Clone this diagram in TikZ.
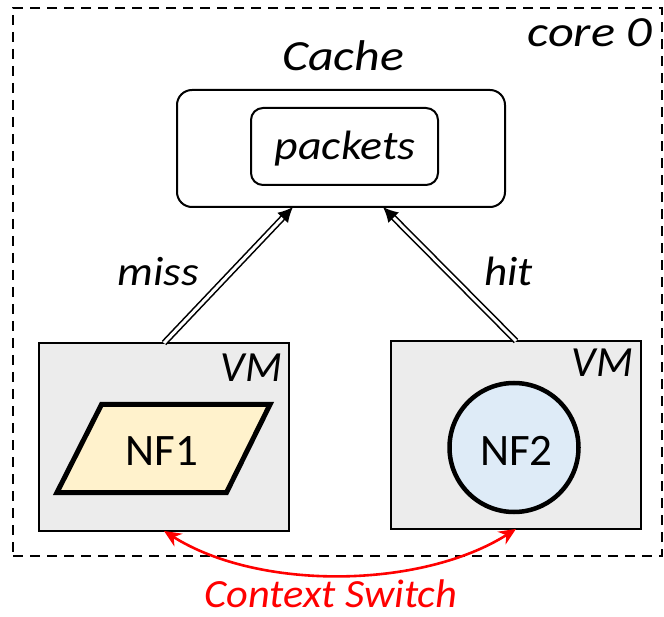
\documentclass[tikz,border=0pt]{standalone}
\usepackage{fontspec}
\setmainfont{Carlito}
\usetikzlibrary{arrows.meta,calc}

\definecolor{vmgray}{HTML}{ECECEC}
\definecolor{nfyellow}{HTML}{FFF2CC}
\definecolor{nfblue}{HTML}{DEEBF7}

% italic set a little wider, size and horizontal stretch as arguments
\newcommand{\wideit}[2]{\fontsize{#1}{#1}\selectfont\itshape\addfontfeature{FakeStretch=#2}}

\begin{document}
\begin{tikzpicture}[x=1pt,y=-1pt,
  every node/.style={inner sep=0pt, outer sep=0pt},
  itlabel/.style={font=\fontsize{43}{50}\selectfont\itshape},
  nflabel/.style={font=\fontsize{45}{52}\selectfont},
  corebox/.style={draw, dashed, line width=2pt, dash pattern=on 10pt off 7pt},
  cachebox/.style={draw, line width=2pt, rounded corners=15pt},
  vmbox/.style={draw, fill=vmgray, line width=2.5pt, minimum width=250pt, minimum height=188pt},
  dblarrow/.style={double, double distance=3pt, line width=1.6pt, -{Latex[length=15pt,width=15pt]}},
  ctxarrow/.style={red, line width=2.6pt, {Stealth[length=17pt,width=15pt]}-{Stealth[length=17pt,width=15pt]}}
]
\useasboundingbox (0,0) rectangle (664,617);

% core boundary
\node[corebox, minimum width=649pt, minimum height=548pt] (core) at (337.5,282) {};
\node[font=\wideit{43}{1.17}, anchor=base east] (corelbl) at (652,47) {core 0};

% cache with the packet buffer inside
\node[font=\wideit{43}{1.16}, anchor=base] (cachelbl) at (343,71) {Cache};
\node[cachebox, minimum width=328pt, minimum height=117pt] (cache) at (341,148.5) {};
\node[cachebox, rounded corners=12pt, minimum width=187pt, minimum height=77pt] (pkts) at (344.5,146.5) {};
\node[font=\wideit{41}{1.12}, anchor=base] (pktslbl) at (345,160) {packets};

% virtual machines
\node[vmbox] (vm1) at (164,437) {};
\node[vmbox] (vm2) at (516,435) {};
\node[itlabel, anchor=base east] (vm1lbl) at (282,382) {VM};
\node[itlabel, anchor=base east] (vm2lbl) at (633,377) {VM};

% NF1: parallelogram
\draw[line width=5pt, fill=nfyellow, line join=miter]
  (101.5,404.5) -- (270,404.5) -- (226.5,492.5) -- (57,492.5) -- cycle;
\node[nflabel, anchor=base] (nf1) at (162,465) {NF1};

% NF2: circle
\node[draw, circle, line width=4.5pt, fill=nfblue, minimum size=129pt] (nf2c) at (514,447.5) {};
\node[nflabel, anchor=base] (nf2) at (516.5,465) {NF2};

% cache accesses
\coordinate (missend) at ($(cache.south)+(-48,0)$);
\coordinate (hitend)  at ($(cache.south)+(42,0)$);
\draw[dblarrow] (vm1.north) -- (missend);
\draw[dblarrow] (vm2.north) -- (hitend);
\node[font=\wideit{41}{1.1}, anchor=base east] (misslbl) at (199,286) {miss};
\node[font=\wideit{41}{1.1}, anchor=base west] (hitlbl) at (484,286) {hit};

% context switch between the two VMs
\draw[ctxarrow] (vm1.south) .. controls +(95,60) and +(-95,60) .. (vm2.south);
\node[font=\wideit{40}{1.06}, text=red, anchor=base] (ctxlbl) at (331,607) {Context Switch};
\end{tikzpicture}
\end{document}
